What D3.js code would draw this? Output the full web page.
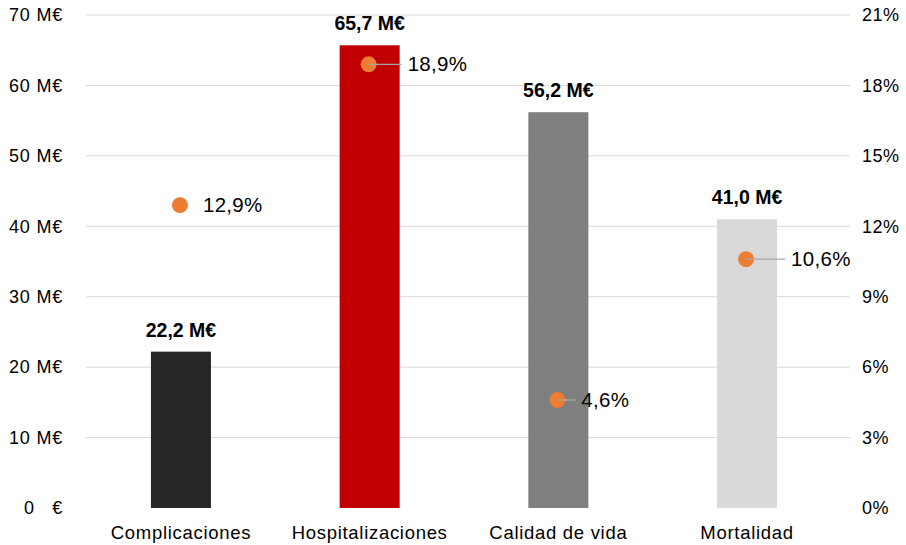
<!DOCTYPE html>
<html><head><meta charset="utf-8">
<script src="https://cdn.jsdelivr.net/npm/d3@7"></script>
<style>body{margin:0;background:#fff}svg{display:block;font-family:"Liberation Sans",Arial,sans-serif}</style>
</head><body><svg id="c" width="906" height="545"></svg>
<script>
const categories = ["Complicaciones", "Hospitalizaciones", "Calidad de vida", "Mortalidad"];
const costValues = [22.2, 65.7, 56.2, 41.0];
const pctValues = [12.9, 18.9, 4.6, 10.6];
const barColors = ["#262626", "#c00000", "#7f7f7f", "#d9d9d9"];
const leftTicks = [0, 10, 20, 30, 40, 50, 60, 70];
const rightTicks = [0, 3, 6, 9, 12, 15, 18, 21];

const svg = d3.select("#c");
const m = {l: 86, r: 850, t: 15, b: 508};
const x = d3.scaleBand().domain(categories).range([86.6, 841.4]).paddingInner(0.682).paddingOuter(0.341);
const y = d3.scaleLinear().domain([0, 70]).range([m.b, m.t]);
const y2 = d3.scaleLinear().domain([0, 21]).range([m.b, m.t]);
const fmt = v => v.toFixed(1).replace(".", ",");
const FF = "Liberation Sans, Arial, sans-serif";

// gridlines
svg.append("g").selectAll("line").data(leftTicks.filter(d => d > 0)).join("line")
  .attr("x1", m.l).attr("x2", m.r).attr("y1", d => y(d)).attr("y2", d => y(d))
  .attr("stroke", "#d9d9d9").attr("stroke-width", 1);

// left axis
const la = svg.append("g").attr("transform", `translate(${m.l},0)`)
  .call(d3.axisLeft(y).tickValues(leftTicks).tickSize(0).tickPadding(23)
    .tickFormat(d => d === 0 ? "0   €" : d + " M€"));
la.select(".domain").remove();
la.selectAll("text").attr("font-size", 18).attr("fill", "#000").attr("font-family", FF)
  .attr("letter-spacing", 0.8).style("white-space", "pre");

// right axis
const ra = svg.append("g").attr("transform", `translate(${m.r},0)`)
  .call(d3.axisRight(y2).tickValues(rightTicks).tickSize(0).tickPadding(12).tickFormat(d => d + "%"));
ra.select(".domain").remove();
ra.selectAll("text").attr("font-size", 18).attr("fill", "#000").attr("font-family", FF).attr("letter-spacing", 0.5);

// bottom axis
const ba = svg.append("g").attr("transform", `translate(0,${m.b})`)
  .call(d3.axisBottom(x).tickSize(0).tickPadding(18));
ba.select(".domain").remove();
ba.selectAll("text").attr("font-size", 18.5).attr("fill", "#000").attr("font-family", FF).attr("letter-spacing", 0.7);

// bars
svg.append("g").selectAll("rect").data(categories).join("rect")
  .attr("x", d => x(d)).attr("width", x.bandwidth())
  .attr("y", (d, i) => y(costValues[i])).attr("height", (d, i) => y(0) - y(costValues[i]))
  .attr("fill", (d, i) => barColors[i]);

// bar labels
svg.append("g").selectAll("text").data(categories).join("text")
  .attr("x", d => x(d) + x.bandwidth() / 2).attr("y", (d, i) => y(costValues[i]) - 15)
  .attr("text-anchor", "middle").attr("font-size", 19.5).attr("font-weight", "bold").attr("font-family", FF)
  .text((d, i) => fmt(costValues[i]) + " M€");

// percent points with labels
const labelDx = [23, 39, 24, 45];
const hasLeader = [false, true, true, true];
const pg = svg.append("g");
categories.forEach((c, i) => {
  const cx = x(c) + x.bandwidth() / 2 - 1, cy = y2(pctValues[i]);
  pg.append("circle").attr("cx", cx).attr("cy", cy).attr("r", 8).attr("fill", "#ed7d31");
  if (hasLeader[i]) {
    pg.append("line").attr("x1", cx).attr("y1", cy).attr("x2", cx + labelDx[i] - 6).attr("y2", cy)
      .attr("stroke", "#a6a6a6").attr("stroke-width", 1.3);
  }
  pg.append("text").attr("x", cx + labelDx[i]).attr("y", cy).attr("dy", "0.35em")
    .attr("font-size", 20.5).attr("fill", "#000").attr("font-family", FF).attr("letter-spacing", 0.3)
    .text(fmt(pctValues[i]) + "%");
});
</script></body></html>
